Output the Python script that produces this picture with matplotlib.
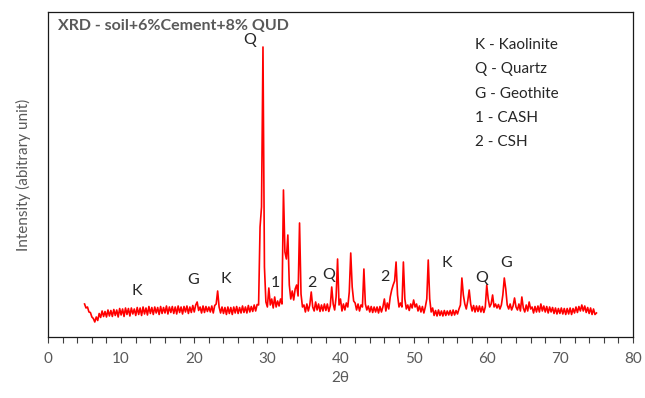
import numpy as np
import matplotlib.pyplot as plt

plt.rcParams["font.family"] = ["Lato", "DejaVu Sans"]

seg_05_15 = [330, 290, 300, 250, 245,
             200, 185, 150, 200, 165,
             235, 195, 260, 205, 255,
             200, 270, 210, 265, 205,
             275, 215, 270, 200, 285,
             220, 280, 205, 290, 225,
             285, 210, 290, 230, 280,
             215, 295, 225, 290, 215,
             300, 230, 290, 220, 305,
             235, 295, 225, 300, 240]
seg_15_25 = [295, 225, 305, 235, 295,
             240, 310, 230, 300, 245,
             305, 235, 300, 230, 310,
             245, 300, 230, 305, 250,
             310, 235, 300, 245, 315,
             250, 320, 350, 265, 300,
             240, 310, 245, 305, 255,
             300, 250, 310, 240, 315,
             330, 460, 300, 240, 300,
             235, 295, 225, 300, 235]
seg_25_35 = [295, 225, 300, 240, 305,
             235, 295, 240, 310, 245,
             300, 240, 315, 250, 305,
             255, 320, 260, 325, 320,
             1100, 1300, 2900, 700, 350,
             300, 490, 320, 380, 290,
             400, 300, 360, 310, 380,
             330, 1470, 850, 780, 1020,
             520, 380, 460, 370, 480,
             520, 410, 1140, 430, 300]
seg_35_45 = [320, 250, 330, 260, 320,
             450, 300, 260, 350, 270,
             330, 255, 320, 260, 330,
             265, 330, 255, 310, 500,
             330, 270, 400, 780, 320,
             380, 260, 330, 270, 340,
             300, 450, 840, 500, 360,
             340, 270, 330, 260, 320,
             300, 680, 330, 270, 310,
             250, 305, 245, 300, 250]
seg_45_55 = [300, 240, 305, 250, 300,
             380, 260, 340, 280, 400,
             470, 520, 560, 750, 420,
             300, 340, 300, 750, 380,
             280, 320, 265, 330, 290,
             370, 300, 330, 260, 310,
             250, 305, 240, 300, 380,
             770, 380, 250, 290, 215,
             265, 210, 270, 215, 260,
             210, 265, 215, 260, 220]
seg_55_65 = [265, 215, 270, 220, 265,
             230, 280, 320, 590, 420,
             330, 280, 360, 470, 330,
             260, 315, 250, 310, 255,
             310, 250, 305, 245, 300,
             520, 380, 300, 330, 420,
             300, 330, 290, 325, 280,
             320, 420, 590, 480, 320,
             280, 330, 270, 310, 390,
             300, 270, 330, 260, 400]
seg_65_75 = [290, 250, 320, 260, 350,
             280, 300, 240, 305, 250,
             310, 250, 330, 260, 310,
             250, 305, 240, 300, 250,
             295, 235, 290, 230, 285,
             235, 290, 230, 285, 225,
             285, 230, 290, 225, 285,
             240, 300, 245, 305, 260,
             320, 260, 310, 245, 295,
             235, 290, 225, 280, 225,
             240]

# phase labels placed above the peaks: (text, 2theta, counts)
peak_labels = [("K", 12.2, 463), ("G", 19.9, 570), ("K", 24.3, 580),
               ("Q", 27.6, 2970), ("1", 31.1, 537), ("2", 36.15, 537),
               ("Q", 38.4, 620), ("2", 46.1, 603), ("K", 54.6, 737),
               ("Q", 59.3, 587), ("G", 62.7, 737)]
phase_key = ["K - Kaolinite", "Q - Quartz", "G - Geothite",
             "1 - CASH", "2 - CSH"]
title = "XRD - soil+6%Cement+8% QUD"


def plot_xrd(two_theta, counts, filename):
    """
    Plot an XRD pattern with phase labels.

    Parameters
    ----------
    two_theta : ndarray
        Diffraction angle 2theta [deg]
    counts : ndarray
        Intensity, arbitrary units
    filename : str
        Output filename
    """
    fig = plt.figure(figsize=(6.45, 3.98), dpi=100)
    ax = fig.add_axes([0.0744, 0.1533, 0.907, 0.8165])
    ax.plot(two_theta, counts, color="#ff0000", linewidth=1.2)

    ax.set_xlim(0, 80)
    ax.set_ylim(0, 3250)
    ax.set_xticks(np.arange(0, 81, 10))
    ax.set_xticks(np.arange(0, 81, 2), minor=True)
    ax.set_yticks([])
    ax.tick_params(axis="x", which="both", direction="out", length=4.5,
                   width=0.8, color="#404040", labelsize=11,
                   labelcolor="#595959", pad=6)
    for s in ax.spines.values():
        s.set_color("#1a1a1a")
        s.set_linewidth(0.9)

    ax.set_xlabel("2θ", fontsize=11, color="#595959", labelpad=4)
    ax.set_ylabel("Intensity (abitrary unit)", fontsize=11,
                  color="#595959", labelpad=12)

    for txt, x, y in peak_labels:
        ax.text(x, y, txt, fontsize=11.5, color="#262626",
                ha="center", va="center")

    ax.text(0.017, 0.957, title, transform=ax.transAxes, fontsize=11.5,
            fontweight="bold", color="#595959", ha="left", va="center")
    for i, entry in enumerate(phase_key):
        ax.text(0.73, 0.898 - i * 0.0745, entry, transform=ax.transAxes,
                fontsize=11, color="#262626", ha="left", va="center")

    fig.savefig(filename, dpi=100)
    plt.close(fig)


if __name__ == "__main__":
    counts = np.array(seg_05_15 + seg_15_25 + seg_25_35 + seg_35_45
                      + seg_45_55 + seg_55_65 + seg_65_75)
    two_theta = np.round(np.arange(len(counts)) * 0.2 + 5.0, 2)
    plot_xrd(two_theta, counts, "out.png")
